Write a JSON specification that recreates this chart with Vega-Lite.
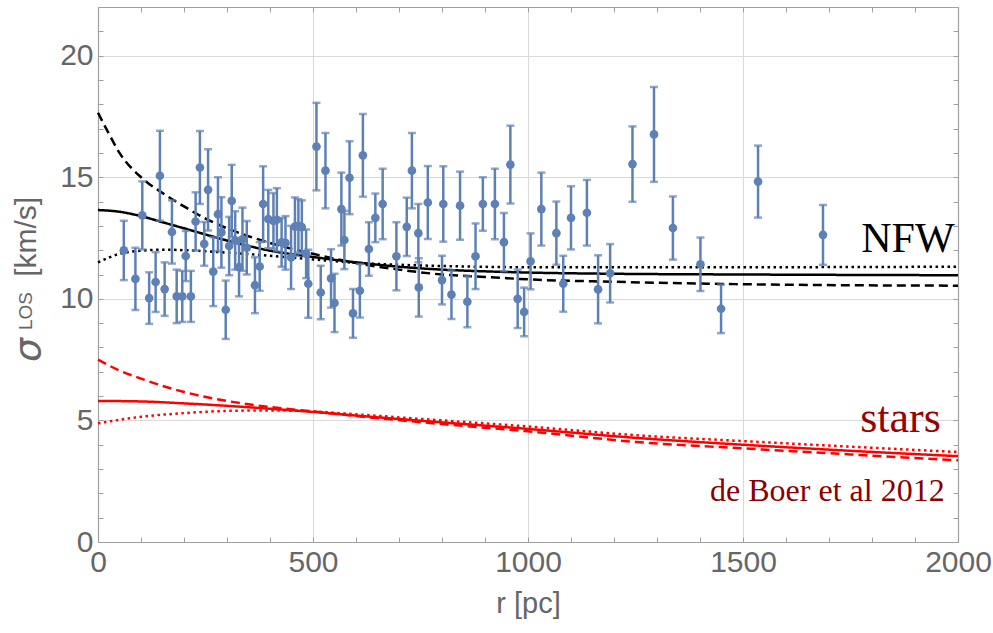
{
  "$schema": "https://vega.github.io/schema/vega-lite/v6.json",
  "width": 860,
  "height": 535,
  "autosize": "none",
  "padding": {"left": 98, "top": 7, "right": 35, "bottom": 91},
  "background": "white",
  "config": {
    "view": {"stroke": null},
    "axis": {
      "labelFont": "Liberation Sans",
      "labelFontSize": 30,
      "labelColor": "#666666",
      "titleFont": "Liberation Sans",
      "titleFontSize": 29,
      "titleFontWeight": "normal",
      "titleColor": "#666666",
      "domainColor": "#a0a0a0",
      "domainWidth": 1.2,
      "tickColor": "#a0a0a0",
      "tickWidth": 1,
      "tickSize": -5,
      "labelOverlap": false,
      "labelFlush": false,
      "gridColor": "#d9d9d9",
      "gridWidth": 1
    }
  },
  "datasets": {
    "obs": [
      {"r": 60, "s": 11.99, "lo": 10.77, "hi": 13.21},
      {"r": 87, "s": 10.82, "lo": 9.54, "hi": 12.1},
      {"r": 103, "s": 13.43, "lo": 12.03, "hi": 14.83},
      {"r": 119, "s": 10.03, "lo": 8.97, "hi": 11.09},
      {"r": 134, "s": 10.69, "lo": 9.46, "hi": 11.92},
      {"r": 144, "s": 15.06, "lo": 13.21, "hi": 16.91},
      {"r": 155, "s": 10.4, "lo": 9.3, "hi": 11.5},
      {"r": 172, "s": 12.75, "lo": 11.45, "hi": 14.05},
      {"r": 183, "s": 10.1, "lo": 9.0, "hi": 11.2},
      {"r": 196, "s": 10.1, "lo": 9.05, "hi": 11.15},
      {"r": 204, "s": 11.76, "lo": 10.73, "hi": 12.79},
      {"r": 216, "s": 10.1, "lo": 9.05, "hi": 11.15},
      {"r": 227, "s": 13.18, "lo": 11.98, "hi": 14.38},
      {"r": 237, "s": 15.4, "lo": 13.9, "hi": 16.9},
      {"r": 247, "s": 12.26, "lo": 11.36, "hi": 13.16},
      {"r": 256, "s": 14.48, "lo": 12.81, "hi": 16.15},
      {"r": 268, "s": 11.12, "lo": 9.7, "hi": 12.54},
      {"r": 279, "s": 13.48, "lo": 11.96, "hi": 15.0},
      {"r": 287, "s": 12.73, "lo": 11.28, "hi": 14.18},
      {"r": 297, "s": 9.55, "lo": 8.35, "hi": 10.75},
      {"r": 305, "s": 12.17, "lo": 10.97, "hi": 13.37},
      {"r": 311, "s": 14.03, "lo": 12.55, "hi": 15.51},
      {"r": 319, "s": 12.4, "lo": 11.2, "hi": 13.6},
      {"r": 328, "s": 11.3, "lo": 10.1, "hi": 12.5},
      {"r": 336, "s": 12.45, "lo": 11.15, "hi": 13.75},
      {"r": 346, "s": 12.1, "lo": 11.0, "hi": 13.2},
      {"r": 365, "s": 10.56, "lo": 9.41, "hi": 11.71},
      {"r": 376, "s": 11.33, "lo": 10.33, "hi": 12.33},
      {"r": 384, "s": 13.9, "lo": 12.35, "hi": 15.45},
      {"r": 396, "s": 13.28, "lo": 12.08, "hi": 14.48},
      {"r": 408, "s": 13.2, "lo": 12.05, "hi": 14.35},
      {"r": 416, "s": 13.25, "lo": 11.95, "hi": 14.55},
      {"r": 427, "s": 12.32, "lo": 11.32, "hi": 13.32},
      {"r": 436, "s": 12.3, "lo": 11.2, "hi": 13.4},
      {"r": 449, "s": 11.7, "lo": 10.4, "hi": 13.0},
      {"r": 458, "s": 12.97, "lo": 11.77, "hi": 14.17},
      {"r": 466, "s": 13.0, "lo": 11.9, "hi": 14.1},
      {"r": 474, "s": 12.95, "lo": 11.85, "hi": 14.05},
      {"r": 484, "s": 11.85, "lo": 10.85, "hi": 12.85},
      {"r": 489, "s": 10.62, "lo": 9.22, "hi": 12.02},
      {"r": 508, "s": 16.26, "lo": 14.46, "hi": 18.06},
      {"r": 518, "s": 10.26, "lo": 9.16, "hi": 11.36},
      {"r": 529, "s": 15.27, "lo": 13.72, "hi": 16.82},
      {"r": 542, "s": 10.84, "lo": 9.64, "hi": 12.04},
      {"r": 550, "s": 9.83, "lo": 8.63, "hi": 11.03},
      {"r": 566, "s": 13.69, "lo": 12.19, "hi": 15.19},
      {"r": 573, "s": 12.42, "lo": 11.22, "hi": 13.62},
      {"r": 585, "s": 14.98, "lo": 13.48, "hi": 16.48},
      {"r": 593, "s": 9.4, "lo": 8.4, "hi": 10.4},
      {"r": 609, "s": 10.33, "lo": 9.23, "hi": 11.43},
      {"r": 616, "s": 15.9, "lo": 14.2, "hi": 17.6},
      {"r": 630, "s": 12.05, "lo": 10.95, "hi": 13.15},
      {"r": 645, "s": 13.33, "lo": 12.33, "hi": 14.33},
      {"r": 662, "s": 13.9, "lo": 12.45, "hi": 15.35},
      {"r": 694, "s": 11.75, "lo": 10.35, "hi": 13.15},
      {"r": 718, "s": 12.96, "lo": 11.76, "hi": 14.16},
      {"r": 730, "s": 15.27, "lo": 13.72, "hi": 16.82},
      {"r": 745, "s": 12.7, "lo": 11.5, "hi": 13.9},
      {"r": 746, "s": 10.47, "lo": 9.27, "hi": 11.67},
      {"r": 767, "s": 13.96, "lo": 12.46, "hi": 15.46},
      {"r": 800, "s": 10.77, "lo": 9.77, "hi": 11.77},
      {"r": 803, "s": 13.9, "lo": 12.35, "hi": 15.45},
      {"r": 822, "s": 10.17, "lo": 9.17, "hi": 11.17},
      {"r": 842, "s": 13.83, "lo": 12.43, "hi": 15.23},
      {"r": 859, "s": 9.88, "lo": 8.83, "hi": 10.93},
      {"r": 878, "s": 11.75, "lo": 10.4, "hi": 13.1},
      {"r": 895, "s": 13.9, "lo": 12.8, "hi": 15.0},
      {"r": 923, "s": 13.9, "lo": 12.45, "hi": 15.35},
      {"r": 944, "s": 12.33, "lo": 11.13, "hi": 13.53},
      {"r": 959, "s": 15.52, "lo": 13.92, "hi": 17.12},
      {"r": 976, "s": 10.0, "lo": 8.8, "hi": 11.2},
      {"r": 991, "s": 9.46, "lo": 8.46, "hi": 10.46},
      {"r": 1006, "s": 11.54, "lo": 10.39, "hi": 12.69},
      {"r": 1031, "s": 13.69, "lo": 12.19, "hi": 15.19},
      {"r": 1066, "s": 12.7, "lo": 11.4, "hi": 14.0},
      {"r": 1082, "s": 10.62, "lo": 9.47, "hi": 11.77},
      {"r": 1100, "s": 13.33, "lo": 12.03, "hi": 14.63},
      {"r": 1137, "s": 13.54, "lo": 12.19, "hi": 14.89},
      {"r": 1163, "s": 10.39, "lo": 8.99, "hi": 11.79},
      {"r": 1191, "s": 11.05, "lo": 9.85, "hi": 12.25},
      {"r": 1243, "s": 15.54, "lo": 13.99, "hi": 17.09},
      {"r": 1293, "s": 16.76, "lo": 14.81, "hi": 18.71},
      {"r": 1337, "s": 12.91, "lo": 11.61, "hi": 14.21},
      {"r": 1401, "s": 11.42, "lo": 10.32, "hi": 12.52},
      {"r": 1449, "s": 9.59, "lo": 8.59, "hi": 10.59},
      {"r": 1535, "s": 14.82, "lo": 13.34, "hi": 16.3},
      {"r": 1686, "s": 12.63, "lo": 11.4, "hi": 13.86}
    ],
    "curves": [
      {"model": "NFW", "style": "solid", "r": 0, "s": 13.65},
      {"model": "NFW", "style": "solid", "r": 50, "s": 13.58},
      {"model": "NFW", "style": "solid", "r": 100, "s": 13.4},
      {"model": "NFW", "style": "solid", "r": 150, "s": 13.15},
      {"model": "NFW", "style": "solid", "r": 200, "s": 12.9},
      {"model": "NFW", "style": "solid", "r": 300, "s": 12.4},
      {"model": "NFW", "style": "solid", "r": 400, "s": 11.98},
      {"model": "NFW", "style": "solid", "r": 500, "s": 11.72},
      {"model": "NFW", "style": "solid", "r": 600, "s": 11.5},
      {"model": "NFW", "style": "solid", "r": 700, "s": 11.32},
      {"model": "NFW", "style": "solid", "r": 800, "s": 11.2},
      {"model": "NFW", "style": "solid", "r": 900, "s": 11.13},
      {"model": "NFW", "style": "solid", "r": 1000, "s": 11.08},
      {"model": "NFW", "style": "solid", "r": 1200, "s": 11.03},
      {"model": "NFW", "style": "solid", "r": 1500, "s": 11.0},
      {"model": "NFW", "style": "solid", "r": 2000, "s": 10.97},
      {"model": "NFW", "style": "dashed", "r": 0, "s": 17.65},
      {"model": "NFW", "style": "dashed", "r": 25, "s": 16.8},
      {"model": "NFW", "style": "dashed", "r": 50, "s": 16.0},
      {"model": "NFW", "style": "dashed", "r": 100, "s": 15.0},
      {"model": "NFW", "style": "dashed", "r": 150, "s": 14.35},
      {"model": "NFW", "style": "dashed", "r": 200, "s": 13.8},
      {"model": "NFW", "style": "dashed", "r": 250, "s": 13.3},
      {"model": "NFW", "style": "dashed", "r": 300, "s": 12.9},
      {"model": "NFW", "style": "dashed", "r": 400, "s": 12.3},
      {"model": "NFW", "style": "dashed", "r": 500, "s": 11.85},
      {"model": "NFW", "style": "dashed", "r": 600, "s": 11.47},
      {"model": "NFW", "style": "dashed", "r": 700, "s": 11.2},
      {"model": "NFW", "style": "dashed", "r": 800, "s": 11.0},
      {"model": "NFW", "style": "dashed", "r": 900, "s": 10.9},
      {"model": "NFW", "style": "dashed", "r": 1000, "s": 10.8},
      {"model": "NFW", "style": "dashed", "r": 1200, "s": 10.7},
      {"model": "NFW", "style": "dashed", "r": 1500, "s": 10.6},
      {"model": "NFW", "style": "dashed", "r": 2000, "s": 10.54},
      {"model": "NFW", "style": "dotted", "r": 0, "s": 11.5},
      {"model": "NFW", "style": "dotted", "r": 50, "s": 11.85},
      {"model": "NFW", "style": "dotted", "r": 100, "s": 11.98},
      {"model": "NFW", "style": "dotted", "r": 150, "s": 12.02},
      {"model": "NFW", "style": "dotted", "r": 200, "s": 12.0},
      {"model": "NFW", "style": "dotted", "r": 300, "s": 11.9},
      {"model": "NFW", "style": "dotted", "r": 400, "s": 11.77},
      {"model": "NFW", "style": "dotted", "r": 500, "s": 11.62},
      {"model": "NFW", "style": "dotted", "r": 600, "s": 11.48},
      {"model": "NFW", "style": "dotted", "r": 700, "s": 11.4},
      {"model": "NFW", "style": "dotted", "r": 800, "s": 11.35},
      {"model": "NFW", "style": "dotted", "r": 1000, "s": 11.3},
      {"model": "NFW", "style": "dotted", "r": 1500, "s": 11.3},
      {"model": "NFW", "style": "dotted", "r": 2000, "s": 11.32},
      {"model": "stars", "style": "solid", "r": 0, "s": 5.8},
      {"model": "stars", "style": "solid", "r": 100, "s": 5.78},
      {"model": "stars", "style": "solid", "r": 200, "s": 5.7},
      {"model": "stars", "style": "solid", "r": 300, "s": 5.6},
      {"model": "stars", "style": "solid", "r": 400, "s": 5.48},
      {"model": "stars", "style": "solid", "r": 500, "s": 5.35},
      {"model": "stars", "style": "solid", "r": 600, "s": 5.2},
      {"model": "stars", "style": "solid", "r": 800, "s": 4.92},
      {"model": "stars", "style": "solid", "r": 1000, "s": 4.65},
      {"model": "stars", "style": "solid", "r": 1260, "s": 4.27},
      {"model": "stars", "style": "solid", "r": 1500, "s": 4.0},
      {"model": "stars", "style": "solid", "r": 1750, "s": 3.75},
      {"model": "stars", "style": "solid", "r": 2000, "s": 3.53},
      {"model": "stars", "style": "dashed", "r": 0, "s": 7.5},
      {"model": "stars", "style": "dashed", "r": 50, "s": 7.05},
      {"model": "stars", "style": "dashed", "r": 100, "s": 6.72},
      {"model": "stars", "style": "dashed", "r": 150, "s": 6.42},
      {"model": "stars", "style": "dashed", "r": 200, "s": 6.17},
      {"model": "stars", "style": "dashed", "r": 300, "s": 5.8},
      {"model": "stars", "style": "dashed", "r": 400, "s": 5.55},
      {"model": "stars", "style": "dashed", "r": 500, "s": 5.37},
      {"model": "stars", "style": "dashed", "r": 600, "s": 5.18},
      {"model": "stars", "style": "dashed", "r": 800, "s": 4.85},
      {"model": "stars", "style": "dashed", "r": 1000, "s": 4.55},
      {"model": "stars", "style": "dashed", "r": 1260, "s": 4.1},
      {"model": "stars", "style": "dashed", "r": 1500, "s": 3.85},
      {"model": "stars", "style": "dashed", "r": 1750, "s": 3.6},
      {"model": "stars", "style": "dashed", "r": 2000, "s": 3.36},
      {"model": "stars", "style": "dotted", "r": 0, "s": 4.88},
      {"model": "stars", "style": "dotted", "r": 100, "s": 5.15},
      {"model": "stars", "style": "dotted", "r": 200, "s": 5.3},
      {"model": "stars", "style": "dotted", "r": 300, "s": 5.39},
      {"model": "stars", "style": "dotted", "r": 400, "s": 5.41},
      {"model": "stars", "style": "dotted", "r": 500, "s": 5.37},
      {"model": "stars", "style": "dotted", "r": 600, "s": 5.25},
      {"model": "stars", "style": "dotted", "r": 800, "s": 5.0},
      {"model": "stars", "style": "dotted", "r": 1000, "s": 4.75},
      {"model": "stars", "style": "dotted", "r": 1260, "s": 4.38},
      {"model": "stars", "style": "dotted", "r": 1500, "s": 4.15},
      {"model": "stars", "style": "dotted", "r": 1750, "s": 3.92},
      {"model": "stars", "style": "dotted", "r": 2000, "s": 3.7}
    ]
  },
  "resolve": {"axis": {"x": "independent", "y": "independent"}},
  "layer": [
    {
      "data": {"name": "curves"},
      "mark": {"type": "line", "strokeWidth": 2.5, "interpolate": "monotone"},
      "encoding": {
        "x": {"field": "r", "type": "quantitative", "scale": {"domain": [0, 2000], "nice": false},
          "axis": {"orient": "top", "values": [0,100,200,300,400,500,600,700,800,900,1000,1100,1200,1300,1400,1500,1600,1700,1800,1900,2000], "labels": false, "grid": false, "title": null}},
        "y": {"field": "s", "type": "quantitative", "scale": {"domain": [0, 22], "nice": false},
          "axis": {"orient": "right", "values": [0,1,2,3,4,5,6,7,8,9,10,11,12,13,14,15,16,17,18,19,20,21,22], "labels": false, "grid": false, "title": null}},
        "color": {"field": "model", "type": "nominal", "scale": {"domain": ["NFW", "stars"], "range": ["#000000", "#ff0000"]}, "legend": null},
        "strokeDash": {"field": "style", "type": "nominal", "scale": {"domain": ["solid", "dashed", "dotted"], "range": [[1, 0], [9, 5], [2.5, 3.5]]}, "legend": null},
        "detail": {"field": "style"}
      }
    },
    {
      "data": {"name": "obs"},
      "mark": {"type": "rule", "color": "#5e81b5", "strokeWidth": 2.5},
      "encoding": {
        "x": {"field": "r", "type": "quantitative",
          "axis": {"orient": "bottom", "values": [0,100,200,300,400,500,600,700,800,900,1000,1100,1200,1300,1400,1500,1600,1700,1800,1900,2000], "format": "d",
            "labelExpr": "datum.value % 500 === 0 ? datum.label : ''", "labelPadding": 10,
            "grid": true, "gridOpacity": {"condition": {"test": "datum.value % 500 === 0 && datum.value > 0 && datum.value < 2000", "value": 1}, "value": 0},
            "title": "r [pc]", "titlePadding": 12}},
        "y": {"field": "lo", "type": "quantitative",
          "axis": {"orient": "left", "values": [0,1,2,3,4,5,6,7,8,9,10,11,12,13,14,15,16,17,18,19,20,21,22],
            "labelExpr": "datum.value % 5 === 0 ? datum.label : ''", "labelPadding": 10,
            "grid": true, "gridOpacity": {"condition": {"test": "datum.value % 5 === 0 && datum.value > 0", "value": 1}, "value": 0},
            "title": null}},
        "y2": {"field": "hi"}
      }
    },
    {
      "data": {"name": "obs"},
      "mark": {"type": "tick", "orient": "horizontal", "color": "#5e81b5", "size": 8, "thickness": 2.5},
      "encoding": {
        "x": {"field": "r", "type": "quantitative", "axis": null},
        "y": {"field": "lo", "type": "quantitative", "axis": null}
      }
    },
    {
      "data": {"name": "obs"},
      "mark": {"type": "tick", "orient": "horizontal", "color": "#5e81b5", "size": 8, "thickness": 2.5},
      "encoding": {
        "x": {"field": "r", "type": "quantitative", "axis": null},
        "y": {"field": "hi", "type": "quantitative", "axis": null}
      }
    },
    {
      "data": {"name": "obs"},
      "mark": {"type": "circle", "color": "#5e81b5", "opacity": 1, "size": 75},
      "encoding": {
        "x": {"field": "r", "type": "quantitative", "axis": null},
        "y": {"field": "s", "type": "quantitative", "axis": null}
      }
    },
    {
      "data": {"values": [{}]},
      "mark": {"type": "text", "font": "Liberation Serif", "fontSize": 42, "color": "#000000", "align": "right", "baseline": "alphabetic"},
      "encoding": {
        "x": {"datum": 1992, "type": "quantitative", "axis": null},
        "y": {"datum": 11.94, "type": "quantitative", "axis": null},
        "text": {"value": "NFW"}
      }
    },
    {
      "data": {"values": [{}]},
      "mark": {"type": "text", "font": "Liberation Serif", "fontSize": 44, "color": "#9b0000", "align": "right", "baseline": "alphabetic"},
      "encoding": {
        "x": {"datum": 1960, "type": "quantitative", "axis": null},
        "y": {"datum": 4.54, "type": "quantitative", "axis": null},
        "text": {"value": "stars"}
      }
    },
    {
      "data": {"values": [{}]},
      "mark": {"type": "text", "font": "Liberation Serif", "fontSize": 32, "color": "#8b0000", "align": "right", "baseline": "alphabetic"},
      "encoding": {
        "x": {"datum": 1969, "type": "quantitative", "axis": null},
        "y": {"datum": 1.67, "type": "quantitative", "axis": null},
        "text": {"value": "de Boer et al 2012"}
      }
    },
    {
      "data": {"values": [{}]},
      "mark": {"type": "text", "font": "DejaVu Sans", "fontStyle": "italic", "fontSize": 38, "color": "#666666", "align": "center", "baseline": "middle", "angle": 270},
      "encoding": {
        "x": {"datum": -160, "type": "quantitative", "axis": null},
        "y": {"datum": 7.9, "type": "quantitative", "axis": null},
        "text": {"value": "σ"}
      }
    },
    {
      "data": {"values": [{}]},
      "mark": {"type": "text", "font": "Liberation Sans", "fontSize": 19, "color": "#666666", "align": "center", "baseline": "middle", "angle": 270},
      "encoding": {
        "x": {"datum": -167, "type": "quantitative", "axis": null},
        "y": {"datum": 9.5, "type": "quantitative", "axis": null},
        "text": {"value": "LOS"}
      }
    },
    {
      "data": {"values": [{}]},
      "mark": {"type": "text", "font": "Liberation Sans", "fontSize": 30, "color": "#666666", "align": "center", "baseline": "middle", "angle": 270},
      "encoding": {
        "x": {"datum": -164, "type": "quantitative", "axis": null},
        "y": {"datum": 12.55, "type": "quantitative", "axis": null},
        "text": {"value": "[km/s]"}
      }
    }
  ]
}
